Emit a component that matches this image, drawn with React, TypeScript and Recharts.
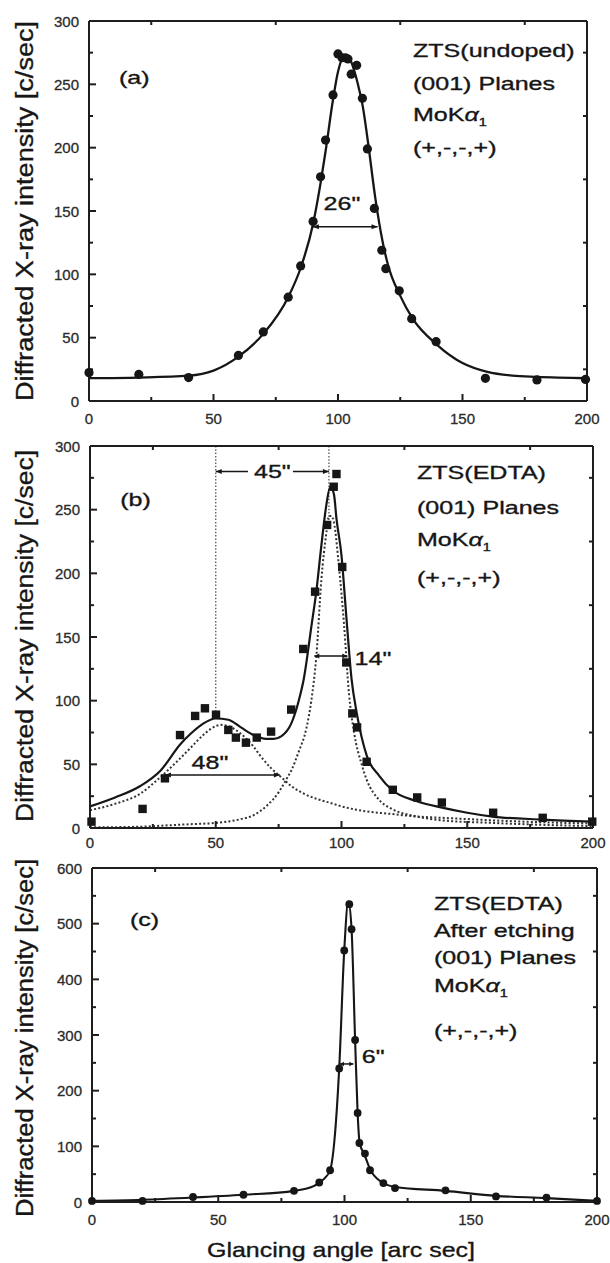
import React from 'react';
import { ComposedChart, Line, Scatter, XAxis, YAxis, ReferenceLine, ReferenceDot } from 'recharts';

const FONT = '"Liberation Sans", Arial, Helvetica, sans-serif';
const INK = '#161616';
const AXIS = '#1e1e1e';
const TICKTXT = '#2b2b2b';
const SX = 1.32; // horizontal stretch of the annotation lettering

// ---------- ticks ----------
const xMajor = [0, 50, 100, 150, 200];
const xMinor = [25, 75, 125, 175];
const yMajorAB = [0, 50, 100, 150, 200, 250, 300];
const yMinorAB = [25, 75, 125, 175, 225, 275];
const yMajorC = [0, 100, 200, 300, 400, 500, 600];
const yMinorC = [50, 150, 250, 350, 450, 550];

// ---------- titles / labels ----------
const xTitle = 'Glancing angle [arc sec]';
const yTitle = 'Diffracted X-ray intensity [c/sec]';
const labelsA = ['ZTS(undoped)', '(001) Planes', 'MoKα_1', '(+,-,-,+)'];
const labelsB = ['ZTS(EDTA)', '(001) Planes', 'MoKα_1', '(+,-,-,+)'];
const labelsC = ['ZTS(EDTA)', 'After etching', '(001) Planes', 'MoKα_1', '(+,-,-,+)'];

// ---------- panel (a) ----------
const pointsA = [
  { x: 0, y: 22.4 }, { x: 20, y: 21 }, { x: 40, y: 18.5 }, { x: 60, y: 36 }, { x: 70, y: 54.5 },
  { x: 80, y: 82 }, { x: 85, y: 106.6 }, { x: 90, y: 141.8 }, { x: 93, y: 177 }, { x: 95, y: 206 },
  { x: 98, y: 241.6 }, { x: 100, y: 274 }, { x: 101.6, y: 271 }, { x: 103, y: 271 }, { x: 104, y: 270 },
  { x: 105.3, y: 258 }, { x: 107.5, y: 265 }, { x: 109.8, y: 239 }, { x: 111.8, y: 199 },
  { x: 114.6, y: 152 }, { x: 117.6, y: 119 }, { x: 119.2, y: 104.5 }, { x: 124.6, y: 87 },
  { x: 129.6, y: 65 }, { x: 139.4, y: 46.8 }, { x: 159.2, y: 17.9 }, { x: 179.9, y: 16.6 }, { x: 199.4, y: 17 },
];
const fitA = [
  { x: 0, y: 18 }, { x: 20, y: 18.5 }, { x: 40, y: 20 }, { x: 50, y: 24 }, { x: 60, y: 35 },
  { x: 70, y: 53 }, { x: 80, y: 82 }, { x: 85, y: 105 }, { x: 90, y: 140 }, { x: 93, y: 172 },
  { x: 95, y: 197 }, { x: 98, y: 238 }, { x: 100, y: 260 }, { x: 102, y: 271 }, { x: 104, y: 272 },
  { x: 106, y: 264 }, { x: 108, y: 250 }, { x: 110, y: 232 }, { x: 112, y: 205 }, { x: 115, y: 160 },
  { x: 118, y: 125 }, { x: 120, y: 108 }, { x: 125, y: 83 }, { x: 130, y: 65 }, { x: 140, y: 44 },
  { x: 150, y: 30 }, { x: 160, y: 23 }, { x: 170, y: 20 }, { x: 180, y: 19 }, { x: 200, y: 18 },
];

// ---------- panel (b) ----------
const pointsB = [
  { x: 0.6, y: 5 }, { x: 20.9, y: 15 }, { x: 29.8, y: 39 }, { x: 35.8, y: 73 }, { x: 41.8, y: 88 },
  { x: 45.7, y: 94 }, { x: 50.1, y: 89 }, { x: 55, y: 77 }, { x: 58, y: 71 }, { x: 62, y: 67 },
  { x: 66.3, y: 71 }, { x: 72, y: 75.7 }, { x: 80, y: 93 }, { x: 84.8, y: 140.6 }, { x: 89.5, y: 185.6 },
  { x: 94.3, y: 238 }, { x: 96.9, y: 268 }, { x: 98, y: 278 }, { x: 100.3, y: 205 }, { x: 101.9, y: 130 },
  { x: 104.3, y: 90 }, { x: 106.2, y: 79 }, { x: 110, y: 52 }, { x: 120.4, y: 30 }, { x: 130.1, y: 24 },
  { x: 139.9, y: 20 }, { x: 160.3, y: 12 }, { x: 180, y: 8 }, { x: 199.7, y: 5 },
];
const fitB = [
  { x: 0, y: 17 }, { x: 10, y: 24 }, { x: 20, y: 33 }, { x: 28, y: 45 }, { x: 36, y: 66 },
  { x: 40, y: 74 }, { x: 45, y: 82 }, { x: 50, y: 86 }, { x: 55, y: 85 }, { x: 60, y: 79 },
  { x: 65, y: 73 }, { x: 70, y: 70 }, { x: 73, y: 70 }, { x: 76, y: 72 }, { x: 80, y: 82 },
  { x: 83, y: 100 }, { x: 85, y: 117 }, { x: 88, y: 158 }, { x: 90, y: 186 }, { x: 92, y: 222 },
  { x: 94, y: 254 }, { x: 95.5, y: 268 }, { x: 97, y: 262 }, { x: 98, y: 243 }, { x: 100, y: 214 },
  { x: 102, y: 164 }, { x: 104, y: 117 }, { x: 106, y: 91 }, { x: 110, y: 57 }, { x: 115, y: 41 },
  { x: 120, y: 30 }, { x: 130, y: 21 }, { x: 140, y: 16 }, { x: 150, y: 12 }, { x: 160, y: 9 },
  { x: 180, y: 6.6 }, { x: 200, y: 5 },
];
const broadB = [
  { x: 0, y: 14 }, { x: 10, y: 19 }, { x: 20, y: 27 }, { x: 28, y: 40 }, { x: 35, y: 53 },
  { x: 40, y: 63 }, { x: 45, y: 73 }, { x: 50, y: 80 }, { x: 52, y: 81 }, { x: 55, y: 80 },
  { x: 60, y: 74 }, { x: 65, y: 64 }, { x: 68, y: 56 }, { x: 72, y: 47 }, { x: 76, y: 40 },
  { x: 80, y: 33 }, { x: 85, y: 27 }, { x: 90, y: 23 }, { x: 95, y: 20 }, { x: 100, y: 17 },
  { x: 110, y: 13 }, { x: 120, y: 11 }, { x: 130, y: 9 }, { x: 140, y: 8 }, { x: 150, y: 7 },
  { x: 160, y: 6 }, { x: 180, y: 4.5 }, { x: 200, y: 3.5 },
];
const narrowB = [
  { x: 0, y: 0.5 }, { x: 20, y: 1 }, { x: 30, y: 2 }, { x: 40, y: 3 }, { x: 50, y: 4 },
  { x: 60, y: 7 }, { x: 65, y: 10 }, { x: 70, y: 17 }, { x: 75, y: 28 }, { x: 78, y: 38 },
  { x: 80, y: 45 }, { x: 83, y: 60 }, { x: 86, y: 78 }, { x: 88, y: 100 }, { x: 90, y: 135 },
  { x: 92, y: 195 }, { x: 94, y: 232 }, { x: 95, y: 245 }, { x: 96, y: 245 }, { x: 97, y: 240 },
  { x: 99, y: 205 }, { x: 101, y: 160 }, { x: 103, y: 105 }, { x: 105, y: 75 }, { x: 108, y: 50 },
  { x: 110, y: 38 }, { x: 115, y: 22 }, { x: 120, y: 15 }, { x: 130, y: 9 }, { x: 140, y: 6 },
  { x: 160, y: 4 }, { x: 180, y: 2.5 }, { x: 200, y: 1.5 },
];

// ---------- panel (c) ----------
const pointsC = [
  { x: 0, y: 2 }, { x: 20, y: 2 }, { x: 40, y: 9 }, { x: 60, y: 13 }, { x: 80, y: 20 },
  { x: 90, y: 35 }, { x: 94.3, y: 57 }, { x: 97.9, y: 240 }, { x: 99.9, y: 452 }, { x: 101.9, y: 535 },
  { x: 102.8, y: 490 }, { x: 104.2, y: 291 }, { x: 105.2, y: 160 }, { x: 105.9, y: 106 },
  { x: 108.1, y: 87 }, { x: 110.1, y: 57 }, { x: 115.4, y: 34 }, { x: 120, y: 25 }, { x: 140, y: 21 },
  { x: 160, y: 10 }, { x: 180, y: 8 }, { x: 200, y: 2 },
];
const fitC = [
  { x: 0, y: 2 }, { x: 20, y: 4 }, { x: 40, y: 8 }, { x: 60, y: 13 }, { x: 80, y: 20 },
  { x: 88, y: 29 }, { x: 92, y: 42 }, { x: 94.3, y: 57 }, { x: 96, y: 110 }, { x: 97.9, y: 240 },
  { x: 99.9, y: 452 }, { x: 101.5, y: 540 }, { x: 102.8, y: 490 }, { x: 104.2, y: 291 },
  { x: 105.2, y: 160 }, { x: 106, y: 106 }, { x: 108, y: 84 }, { x: 110, y: 60 }, { x: 115, y: 35 },
  { x: 120, y: 27 }, { x: 140, y: 20 }, { x: 160, y: 11 }, { x: 180, y: 7 }, { x: 200, y: 2 },
];

// ---------- helpers ----------
type Side = 'bottom' | 'left';
const makeLabel = (side: Side, offset: number) => (props: any) => {
  const x = Number(props.x);
  const y = Number(props.y);
  const v = props.payload ? props.payload.value : null;
  if (side === 'bottom') {
    return (
      <text x={x} y={y + offset} textAnchor="middle" dominantBaseline="central"
        fontFamily={FONT} fontSize={15} fill={TICKTXT} stroke={TICKTXT} strokeWidth={0.3}>{v}</text>
    );
  }
  return (
    <text x={x - offset} y={y} textAnchor="end" dominantBaseline="central"
      fontFamily={FONT} fontSize={15} fill={TICKTXT} stroke={TICKTXT} strokeWidth={0.3}>{v}</text>
  );
};

// short inward minor tick marks at both ends of a full-span segment
const minorTicks = (len: number) => (p: any) => {
  const x1 = Number(p.x1);
  const y1 = Number(p.y1);
  const x2 = Number(p.x2);
  const y2 = Number(p.y2);
  const dx = x2 - x1;
  const dy = y2 - y1;
  const L = Math.hypot(dx, dy) || 1;
  const ux = dx / L;
  const uy = dy / L;
  return (
    <g>
      <line x1={x1} y1={y1} x2={x1 + ux * len} y2={y1 + uy * len} stroke={AXIS} strokeWidth={2} />
      <line x1={x2} y1={y2} x2={x2 - ux * len} y2={y2 - uy * len} stroke={AXIS} strokeWidth={2} />
    </g>
  );
};

const rich = (s: string) => {
  if (!s.includes('_')) return s;
  const [base, sub] = s.split('_');
  const parts = base.split('α');
  return (
    <>
      {parts[0]}
      <tspan fontStyle="italic">α</tspan>
      {parts[1]}
      <tspan fontSize={11} dy={5}>{sub}</tspan>
    </>
  );
};

const textShape = (lines: string[], gaps: number[], anchor: 'start' | 'middle' = 'start') => (p: any) => (
  <g transform={`translate(${p.cx},${p.cy}) scale(${SX},1)`}>
    {lines.map((s, i) => (
      <text key={i} x={0} y={gaps[i]} textAnchor={anchor} fontSize={19} fontFamily={FONT}
        fill={INK} stroke={INK} strokeWidth={0.35}>
        {rich(s)}
      </text>
    ))}
  </g>
);

const arrowShape = (heads: 'both' | 'end', L = 7, W = 3) => (p: any) => {
  const { x1, y1, x2, y2 } = p;
  const dx = x2 - x1;
  const dy = y2 - y1;
  const len = Math.hypot(dx, dy) || 1;
  const ux = dx / len;
  const uy = dy / len;
  const head = (tx: number, ty: number, ax: number, ay: number) =>
    `${tx},${ty} ${tx - ax * L - ay * W},${ty - ay * L + ax * W} ${tx - ax * L + ay * W},${ty - ay * L - ax * W}`;
  return (
    <g>
      <line x1={x1} y1={y1} x2={x2} y2={y2} stroke={INK} strokeWidth={1.5} />
      <polygon points={head(x2, y2, ux, uy)} fill={INK} />
      {heads === 'both' && <polygon points={head(x1, y1, -ux, -uy)} fill={INK} />}
    </g>
  );
};

const circleShape = (r: number) => (p: any) => <circle cx={p.cx} cy={p.cy} r={r} fill={INK} />;
const squareShape = (s: number) => (p: any) => (
  <rect x={p.cx - s / 2} y={p.cy - s / 2} width={s} height={s} fill={INK} />
);

const AX = { xAxisId: 'b', yAxisId: 'l' } as const;

interface PanelProps {
  top: number;
  height: number;
  yWidth: number;
  mr: number;
  yMax: number;
  yMajor: number[];
  yMinor: number[];
  xLabelOffset: number;
  children: React.ReactNode;
}

function Panel({ top, height, yWidth, mr, yMax, yMajor, yMinor, xLabelOffset, children }: PanelProps) {
  const axisLine = { stroke: AXIS, strokeWidth: 2 };
  const tickLine = { stroke: AXIS, strokeWidth: 2 };
  return (
    <div style={{ position: 'absolute', left: 0, top, width: 610, height }}>
      <ComposedChart width={610} height={height} margin={{ top: 20, right: mr, bottom: 2, left: 0 }}>
        <XAxis xAxisId="b" type="number" dataKey="x" domain={[0, 200]} ticks={xMajor}
          interval={0} tickSize={-7} tickMargin={7} tickLine={tickLine}
          tick={makeLabel('bottom', xLabelOffset)} axisLine={axisLine} height={30} />
        <XAxis xAxisId="t" orientation="top" type="number" dataKey="x" domain={[0, 200]}
          ticks={xMajor} interval={0} tickSize={-7} tickLine={tickLine} tick={false}
          axisLine={axisLine} height={1} />
        <YAxis yAxisId="l" type="number" domain={[0, yMax]} ticks={yMajor} interval={0}
          tickSize={-7} tickMargin={7} tickLine={tickLine} tick={makeLabel('left', 10)}
          axisLine={axisLine} width={yWidth} />
        <YAxis yAxisId="r" orientation="right" type="number" domain={[0, yMax]}
          ticks={yMajor} interval={0} tickSize={-7} tickLine={tickLine} tick={false}
          axisLine={axisLine} width={1} />
        {xMinor.map((v) => (
          <ReferenceLine key={`xm${v}`} {...AX} segment={[{ x: v, y: 0 }, { x: v, y: yMax }]}
            shape={minorTicks(4)} ifOverflow="visible" />
        ))}
        {yMinor.map((v) => (
          <ReferenceLine key={`ym${v}`} {...AX} segment={[{ x: 0, y: v }, { x: 200, y: v }]}
            shape={minorTicks(4)} ifOverflow="visible" />
        ))}
        {children}
      </ComposedChart>
    </div>
  );
}

export default function App() {
  return (
    <div style={{ position: 'absolute', left: 0, top: 0, width: 610, height: 1263, background: '#fff', overflow: 'hidden' }}>
      {/* (a) */}
      <Panel top={0} height={433} yWidth={89} mr={22} yMax={300} yMajor={yMajorAB} yMinor={yMinorAB} xLabelOffset={17}>
        <Line {...AX} data={fitA} dataKey="y" type="monotone" dot={false} stroke={INK} strokeWidth={2.3} isAnimationActive={false} />
        <Scatter {...AX} data={pointsA} dataKey="y" shape={circleShape(4.6)} isAnimationActive={false} />
        <ReferenceLine {...AX} segment={[{ x: 89.9, y: 137.6 }, { x: 115.9, y: 137.6 }]} shape={arrowShape('both', 6, 2.5)} ifOverflow="visible" />
        <ReferenceDot {...AX} x={101.6} y={151} r={0} ifOverflow="visible" shape={textShape(['26"'], [0], 'middle')} />
        <ReferenceDot {...AX} x={12} y={250.6} r={0} ifOverflow="visible" shape={textShape(['(a)'], [0])} />
        <ReferenceDot {...AX} x={130.1} y={271.5} r={0} ifOverflow="visible" shape={textShape(labelsA, [0, 32.5, 63.5, 96.5])} />
      </Panel>

      {/* (b) */}
      <Panel top={425} height={435} yWidth={90} mr={16} yMax={300} yMajor={yMajorAB} yMinor={yMinorAB} xLabelOffset={14}>
        <ReferenceLine {...AX} segment={[{ x: 50, y: 300 }, { x: 50, y: 88 }]} stroke="#555" strokeWidth={1.3} strokeDasharray="1.5 1.8" />
        <ReferenceLine {...AX} segment={[{ x: 95, y: 300 }, { x: 95, y: 240 }]} stroke="#555" strokeWidth={1.3} strokeDasharray="1.5 1.8" />
        <Line {...AX} data={broadB} dataKey="y" type="monotone" dot={false} stroke="#333" strokeWidth={2} strokeDasharray="2 2.2" isAnimationActive={false} />
        <Line {...AX} data={narrowB} dataKey="y" type="monotone" dot={false} stroke="#333" strokeWidth={2} strokeDasharray="2 2.2" isAnimationActive={false} />
        <Line {...AX} data={fitB} dataKey="y" type="monotone" dot={false} stroke={INK} strokeWidth={2.2} isAnimationActive={false} />
        <Scatter {...AX} data={pointsB} dataKey="y" shape={squareShape(8.4)} isAnimationActive={false} />
        <ReferenceLine {...AX} segment={[{ x: 62.8, y: 280 }, { x: 50, y: 280 }]} shape={arrowShape('end', 6, 2.5)} ifOverflow="visible" />
        <ReferenceLine {...AX} segment={[{ x: 80.7, y: 280 }, { x: 95, y: 280 }]} shape={arrowShape('end', 6, 2.5)} ifOverflow="visible" />
        <ReferenceDot {...AX} x={72.5} y={275} r={0} ifOverflow="visible" shape={textShape(['45"'], [0], 'middle')} />
        <ReferenceLine {...AX} segment={[{ x: 29.8, y: 41.6 }, { x: 75.5, y: 41.6 }]} shape={arrowShape('both', 6, 2.5)} ifOverflow="visible" />
        <ReferenceDot {...AX} x={47.7} y={46.5} r={0} ifOverflow="visible" shape={textShape(['48"'], [0], 'middle')} />
        <ReferenceLine {...AX} segment={[{ x: 89.2, y: 135 }, { x: 102.3, y: 135 }]} shape={arrowShape('both', 5, 2.5)} ifOverflow="visible" />
        <ReferenceDot {...AX} x={112.5} y={127.8} r={0} ifOverflow="visible" shape={textShape(['14"'], [0], 'middle')} />
        <ReferenceDot {...AX} x={12} y={252.5} r={0} ifOverflow="visible" shape={textShape(['(b)'], [0])} />
        <ReferenceDot {...AX} x={130} y={274} r={0} ifOverflow="visible" shape={textShape(labelsB, [0, 35, 67, 105])} />
      </Panel>

      {/* (c) */}
      <Panel top={847} height={387} yWidth={92} mr={12} yMax={600} yMajor={yMajorC} yMinor={yMinorC} xLabelOffset={17}>
        <Line {...AX} data={fitC} dataKey="y" type="monotone" dot={false} stroke={INK} strokeWidth={2.1} isAnimationActive={false} />
        <Scatter {...AX} data={pointsC} dataKey="y" shape={circleShape(3.9)} isAnimationActive={false} />
        <ReferenceLine {...AX} segment={[{ x: 98.2, y: 248 }, { x: 103.5, y: 248 }]} shape={arrowShape('both', 4, 2.2)} ifOverflow="visible" />
        <ReferenceDot {...AX} x={111.4} y={249} r={0} ifOverflow="visible" shape={textShape(['6"'], [0], 'middle')} />
        <ReferenceDot {...AX} x={15} y={495} r={0} ifOverflow="visible" shape={textShape(['(c)'], [0])} />
        <ReferenceDot {...AX} x={135.4} y={525} r={0} ifOverflow="visible" shape={textShape(labelsC, [0, 27, 54, 82, 127])} />
      </Panel>

      {/* axis titles */}
      <svg width={610} height={1263} style={{ position: 'absolute', left: 0, top: 0, pointerEvents: 'none' }}>
        {[211, 636, 1038].map((cy, i) => (
          <text key={i} transform={`translate(33,${cy}) rotate(-90)`} textAnchor="middle" fontFamily={FONT}
            fontSize={23} fill={INK} stroke={INK} strokeWidth={0.35} textLength={[380, 372, 358][i]} lengthAdjust="spacingAndGlyphs">
            {yTitle}
          </text>
        ))}
        <text x={341} y={1257} textAnchor="middle" fontFamily={FONT} fontSize={21} fill={INK}
          stroke={INK} strokeWidth={0.35} textLength={268} lengthAdjust="spacingAndGlyphs">
          {xTitle}
        </text>
      </svg>
    </div>
  );
}
